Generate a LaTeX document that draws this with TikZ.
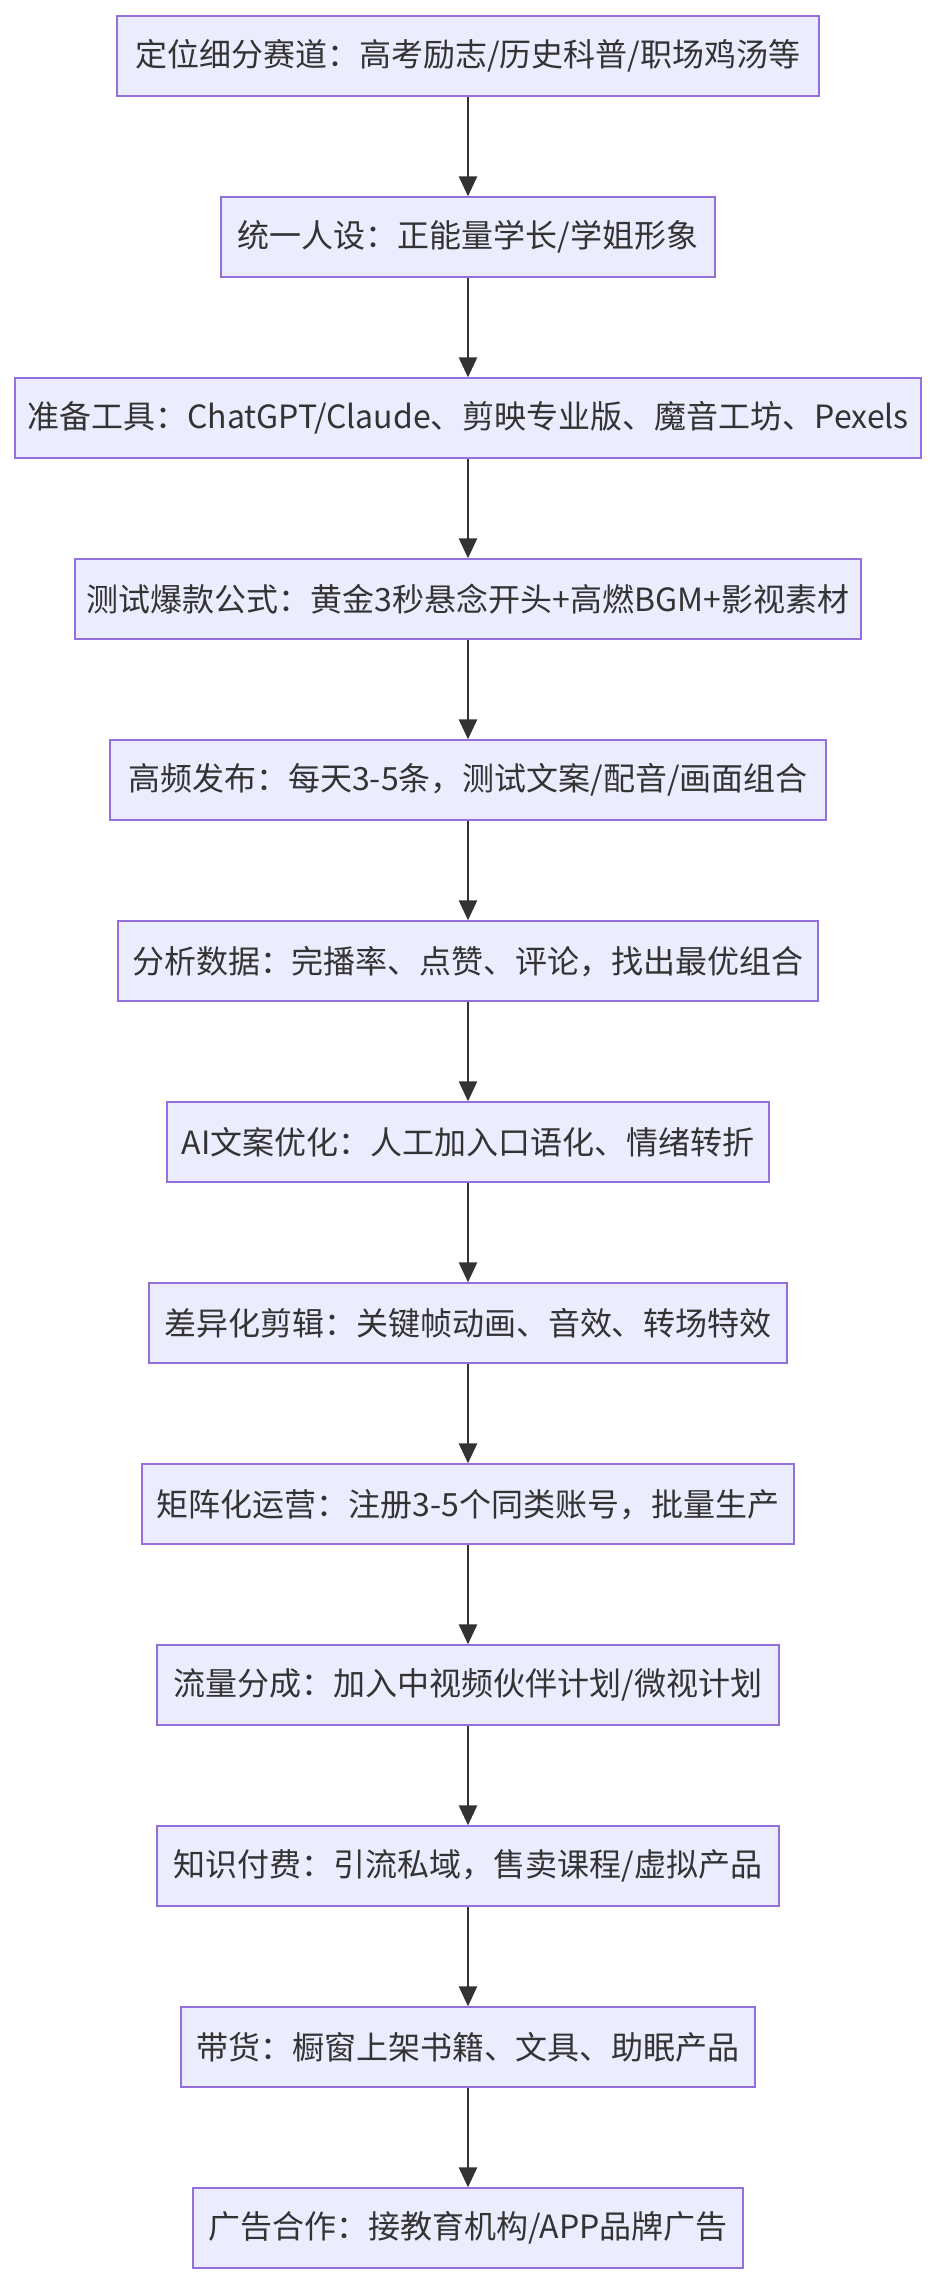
\documentclass[tikz,border=0pt]{standalone}
\usepackage{fontspec}
\setmainfont{Noto Sans CJK SC}
\usepackage{xcolor}
\usepackage{tikz}
\usetikzlibrary{arrows.meta,positioning}

\definecolor{boxfill}{HTML}{ECECFF}
\definecolor{boxline}{HTML}{9370DB}
\definecolor{arrowline}{HTML}{333333}

\begin{document}
\begin{tikzpicture}[
    node distance=90.5pt,
    box/.style={rectangle, draw=boxline, fill=boxfill, line width=0.9pt, minimum height=40pt, inner xsep=6pt, align=center, text=arrowline, font=\fontsize{16pt}{19pt}\selectfont},
    arrow/.style={-{Triangle[width=9pt,length=10pt]}, draw=arrowline, fill=arrowline, line width=1.4pt}
]
    \useasboundingbox (0,0) rectangle (468pt,-1144pt);

    \node[box, minimum width=351pt] (track) at (234pt,-28.1pt) {定位细分赛道：高考励志/历史科普/职场鸡汤等};
    \node[box, minimum width=247pt, below of=track] (persona) {统一人设：正能量学长/学姐形象};
    \node[box, minimum width=451pt, below of=persona] (tools) {准备工具：ChatGPT/Claude、剪映专业版、魔音工坊、Pexels};
    \node[box, minimum width=391pt, below of=tools] (formula) {测试爆款公式：黄金3秒悬念开头+高燃BGM+影视素材};
    \node[box, minimum width=358pt, below of=formula] (publish) {高频发布：每天3-5条，测试文案/配音/画面组合};
    \node[box, minimum width=350pt, below of=publish] (analyse) {分析数据：完播率、点赞、评论，找出最优组合};
    \node[box, minimum width=301pt, below of=analyse] (copy) {AI文案优化：人工加入口语化、情绪转折};
    \node[box, minimum width=319pt, below of=copy] (editing) {差异化剪辑：关键帧动画、音效、转场特效};
    \node[box, minimum width=326pt, below of=editing] (matrix) {矩阵化运营：注册3-5个同类账号，批量生产};
    \node[box, minimum width=311pt, below of=matrix] (traffic) {流量分成：加入中视频伙伴计划/微视计划};
    \node[box, minimum width=311pt, below of=traffic] (paid) {知识付费：引流私域，售卖课程/虚拟产品};
    \node[box, minimum width=287pt, below of=paid] (goods) {带货：橱窗上架书籍、文具、助眠产品};
    \node[box, minimum width=275pt, below of=goods] (ads) {广告合作：接教育机构/APP品牌广告};

    \draw[arrow] (track) -- (persona);
    \draw[arrow] (persona) -- (tools);
    \draw[arrow] (tools) -- (formula);
    \draw[arrow] (formula) -- (publish);
    \draw[arrow] (publish) -- (analyse);
    \draw[arrow] (analyse) -- (copy);
    \draw[arrow] (copy) -- (editing);
    \draw[arrow] (editing) -- (matrix);
    \draw[arrow] (matrix) -- (traffic);
    \draw[arrow] (traffic) -- (paid);
    \draw[arrow] (paid) -- (goods);
    \draw[arrow] (goods) -- (ads);
\end{tikzpicture}
\end{document}
